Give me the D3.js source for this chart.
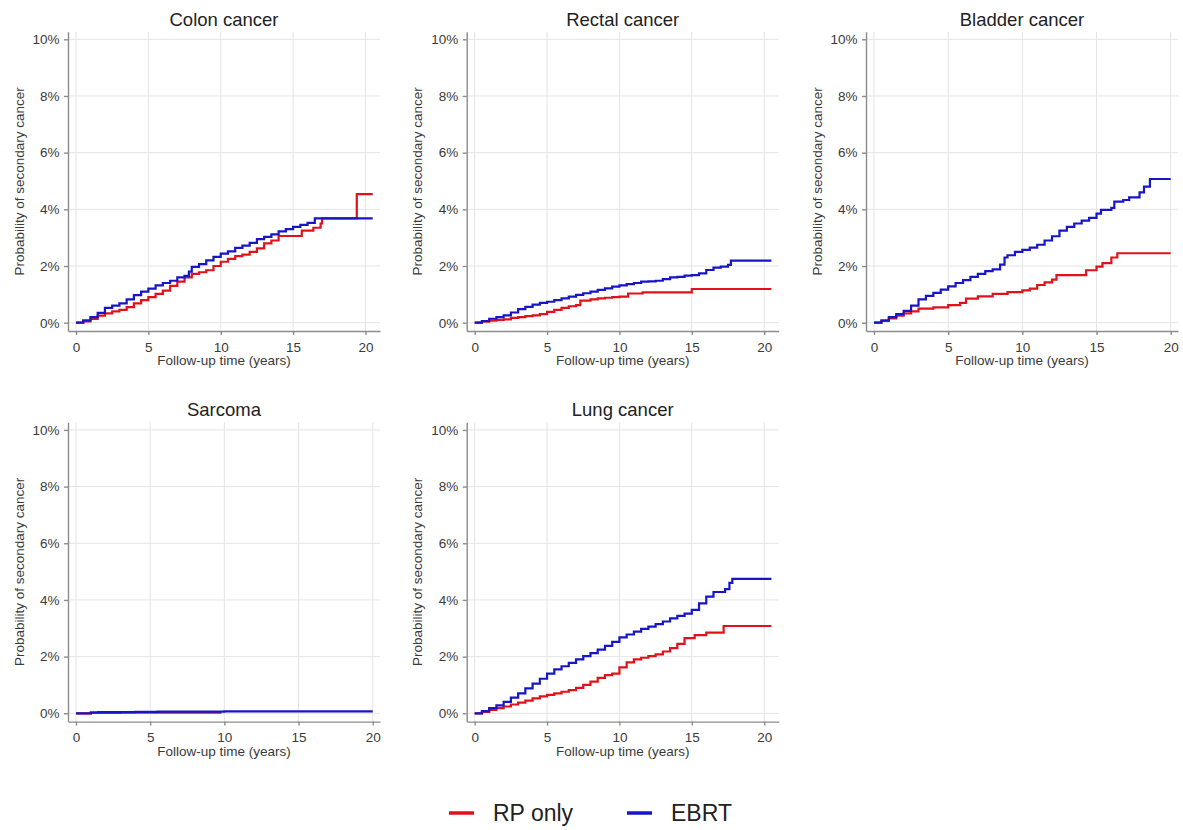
<!DOCTYPE html>
<html>
  <head>
    <title>Secondary cancer after prostate cancer treatment</title>
    <script src="https://d3js.org/d3.v7.min.js"></script>
    <style>
      body { margin: 0; background: #fff; }
      svg { font-family: "Liberation Sans", Arial, sans-serif; }
      .grid line { stroke: #e4e4e4; stroke-width: 1; }
      .axis path, .axis line { stroke: #8c8c8c; stroke-width: 1.4; }
      .axis text { fill: #3a3a3a; font-size: 13.5px; }
    </style>
  </head>
  <body>
    <div id="chart"></div>
    <script>
      // Panel titles, series and ticks
      var categories = ["Colon cancer", "Rectal cancer", "Bladder cancer", "Sarcoma", "Lung cancer"];
      var seriesNames = ["RP only", "EBRT"];
      var xMax = [20.5, 20.5, 20, 20, 20.5];
      var yTicks = [0, 2, 4, 6, 8, 10];
      var xTicks = [0, 5, 10, 15, 20];

      // Cumulative probability (%): [years, percent]
      var colonRP = [[0,0],[0.5,0.05],[1,0.13],[1.5,0.25],[2,0.33],[2.5,0.4],[3,0.45],[3.5,0.55],[4,0.68],[4.5,0.8],[5,0.9],[5.5,1.02],[6,1.13],[6.5,1.3],[7,1.45],[7.5,1.6],[8,1.72],[8.5,1.78],[9,1.85],[9.5,2.0],[10,2.15],[10.5,2.25],[11,2.35],[11.5,2.4],[12,2.5],[12.5,2.62],[13,2.8],[13.5,2.9],[14,3.06],[15.6,3.25],[16.4,3.35],[16.9,3.5],[17,3.68],[19.4,4.54],[20.5,4.54]];
      var colonEBRT = [[0,0],[0.5,0.08],[1,0.2],[1.5,0.35],[2,0.52],[2.5,0.6],[3,0.68],[3.5,0.82],[4,0.97],[4.5,1.1],[5,1.2],[5.5,1.32],[6,1.4],[6.5,1.48],[7,1.6],[7.5,1.65],[7.8,1.8],[8,1.97],[8.5,2.07],[9,2.2],[9.5,2.32],[10,2.44],[10.5,2.52],[11,2.64],[11.5,2.72],[12,2.82],[12.5,2.95],[13,3.03],[13.5,3.12],[14,3.22],[14.5,3.3],[15,3.38],[15.5,3.45],[16,3.52],[16.5,3.68],[20.5,3.68]];
      var rectalRP = [[0,0],[0.5,0.04],[1,0.07],[1.5,0.1],[2,0.12],[2.5,0.17],[3,0.2],[3.5,0.23],[4,0.26],[4.5,0.3],[5,0.38],[5.5,0.45],[6,0.52],[6.5,0.58],[7,0.62],[7.3,0.78],[8,0.82],[8.5,0.86],[9,0.88],[9.5,0.9],[10,0.92],[10.6,1.03],[11.6,1.07],[15,1.19],[20.5,1.19]];
      var rectalEBRT = [[0,0],[0.5,0.06],[1,0.14],[1.5,0.2],[2,0.26],[2.5,0.36],[3,0.48],[3.5,0.56],[4,0.64],[4.5,0.7],[5,0.74],[5.5,0.8],[6,0.86],[6.5,0.92],[7,0.98],[7.5,1.04],[8,1.1],[8.5,1.16],[9,1.21],[9.5,1.27],[10,1.32],[10.5,1.36],[11,1.4],[11.5,1.45],[12,1.46],[12.5,1.48],[13,1.54],[13.5,1.6],[14,1.62],[14.5,1.66],[15,1.68],[15.5,1.74],[16,1.86],[16.5,1.94],[17,1.98],[17.5,2.04],[17.7,2.19],[20.5,2.19]];
      var bladderRP = [[0,0],[0.5,0.06],[1,0.15],[1.5,0.25],[2,0.33],[2.5,0.4],[3,0.5],[4,0.54],[5,0.62],[5.8,0.7],[6.2,0.85],[7,0.93],[8,1.02],[9,1.08],[10,1.14],[10.5,1.2],[11,1.33],[11.5,1.42],[12,1.52],[12.3,1.68],[14.3,1.85],[15,1.98],[15.4,2.1],[16,2.3],[16.4,2.45],[20,2.45]];
      var bladderEBRT = [[0,0],[0.5,0.08],[1,0.2],[1.5,0.3],[2,0.42],[2.5,0.6],[3,0.82],[3.5,0.95],[4,1.05],[4.5,1.17],[5,1.28],[5.5,1.4],[6,1.5],[6.5,1.62],[7,1.72],[7.5,1.82],[8,1.88],[8.5,2.05],[8.8,2.3],[9,2.38],[9.5,2.5],[10,2.57],[10.5,2.65],[11,2.75],[11.5,2.9],[12,3.05],[12.5,3.25],[13,3.38],[13.5,3.5],[14,3.6],[14.5,3.7],[15,3.85],[15.3,3.98],[16,4.05],[16.2,4.27],[16.8,4.33],[17.2,4.42],[17.9,4.6],[18.2,4.8],[18.6,5.07],[20,5.07]];
      var sarcomaRP = [[0,0],[1,0.01],[3,0.02],[9.8,0.02]];
      var sarcomaEBRT = [[0,0],[1,0.03],[1.5,0.04],[4,0.05],[5.5,0.06],[10,0.07],[20,0.07]];
      var lungRP = [[0,0],[0.5,0.05],[1,0.12],[1.5,0.18],[2,0.24],[2.5,0.31],[3,0.38],[3.5,0.45],[4,0.53],[4.5,0.6],[5,0.65],[5.5,0.7],[6,0.76],[6.5,0.82],[7,0.9],[7.5,1.0],[8,1.12],[8.5,1.25],[9,1.35],[9.5,1.4],[10,1.62],[10.5,1.8],[11,1.9],[11.5,1.96],[12,2.02],[12.5,2.08],[13,2.18],[13.5,2.3],[14,2.45],[14.5,2.65],[15.2,2.76],[16,2.85],[17.2,3.08],[20.5,3.08]];
      var lungEBRT = [[0,0],[0.5,0.08],[1,0.18],[1.5,0.28],[2,0.4],[2.5,0.55],[3,0.7],[3.5,0.88],[4,1.05],[4.5,1.22],[5,1.4],[5.5,1.55],[6,1.66],[6.5,1.78],[7,1.9],[7.5,2.02],[8,2.12],[8.5,2.25],[9,2.38],[9.5,2.52],[10,2.68],[10.5,2.78],[11,2.88],[11.5,2.98],[12,3.06],[12.5,3.15],[13,3.24],[13.5,3.35],[14,3.44],[14.5,3.52],[15,3.65],[15.5,3.88],[16,4.12],[16.5,4.28],[17.3,4.38],[17.6,4.6],[17.8,4.74],[20.5,4.74]];

      var rpSeries = [colonRP, rectalRP, bladderRP, sarcomaRP, lungRP];
      var ebrtSeries = [colonEBRT, rectalEBRT, bladderEBRT, sarcomaEBRT, lungEBRT];
      var colors = ["#e2101b", "#1616c6"];

      var width = 1183, height = 830;
      // pixel of x = 0 and y = 0% for each panel
      var origins = [[76, 322.7], [474.7, 322.7], [874, 322.7], [76, 713.3], [474.7, 713.3]];
      var dataWidth = 296.7, pxPerPct = 28.34;

      var svg = d3.select("#chart").append("svg")
        .attr("width", width)
        .attr("height", height);

      categories.forEach(function (name, i) {
        var ox = origins[i][0], oy = origins[i][1];
        var k = dataWidth / xMax[i];
        var x = d3.scaleLinear().domain([-8 / k, 304 / k]).range([ox - 8, ox + 304]);
        var y = d3.scaleLinear().domain([-8.3 / pxPerPct, 10 + 7.6 / pxPerPct])
          .range([oy + 8.3, oy - 283.4 - 7.6]);
        var g = svg.append("g");
        var left = x.range()[0], right = x.range()[1];
        var top = y.range()[1], bottom = y.range()[0];

        // grid lines
        var grid = g.append("g").attr("class", "grid");
        grid.selectAll(".h").data(yTicks).enter().append("line")
          .attr("x1", left).attr("x2", right)
          .attr("y1", function (d) { return y(d); }).attr("y2", function (d) { return y(d); });
        grid.selectAll(".v").data(xTicks).enter().append("line")
          .attr("y1", top).attr("y2", bottom)
          .attr("x1", function (d) { return x(d); }).attr("x2", function (d) { return x(d); });

        // axes
        var ya = g.append("g").attr("class", "axis")
          .attr("transform", "translate(" + left + ",0)")
          .call(d3.axisLeft(y).tickValues(yTicks).tickSize(4).tickPadding(4.5).tickSizeOuter(0)
            .tickFormat(function (d) { return d + "%"; }));
        var xa = g.append("g").attr("class", "axis")
          .attr("transform", "translate(0," + bottom + ")")
          .call(d3.axisBottom(x).tickValues(xTicks).tickSize(4).tickPadding(7).tickSizeOuter(0));

        // curves
        var line = d3.line()
          .x(function (d) { return x(d[0]); })
          .y(function (d) { return y(d[1]); })
          .curve(d3.curveStepAfter);
        [rpSeries[i], ebrtSeries[i]].forEach(function (s, j) {
          g.append("path")
            .datum(s)
            .attr("d", line)
            .attr("fill", "none")
            .attr("stroke", colors[j])
            .attr("stroke-width", 2.2);
        });

        // titles
        var cx = (left + right) / 2;
        g.append("text")
          .attr("x", cx).attr("y", oy - 297)
          .attr("text-anchor", "middle")
          .attr("font-size", "18.5px")
          .attr("fill", "#222")
          .text(name);
        g.append("text")
          .attr("x", cx).attr("y", bottom + 34)
          .attr("text-anchor", "middle")
          .attr("font-size", "13.5px")
          .attr("fill", "#3a3a3a")
          .text("Follow-up time (years)");
        g.append("text")
          .attr("transform", "translate(" + (left - 44.5) + "," + ((top + bottom) / 2) + ") rotate(-90)")
          .attr("text-anchor", "middle")
          .attr("font-size", "13.5px")
          .attr("fill", "#3a3a3a")
          .text("Probability of secondary cancer");
      });

      // legend
      var legendX = [449, 627];
      var legend = svg.append("g");
      seriesNames.forEach(function (s, j) {
        legend.append("line")
          .attr("x1", legendX[j]).attr("x2", legendX[j] + 25)
          .attr("y1", 813).attr("y2", 813)
          .attr("stroke", colors[j]).attr("stroke-width", 3.5);
        legend.append("text")
          .attr("x", legendX[j] + 44).attr("y", 821)
          .attr("font-size", "23px")
          .attr("fill", "#222")
          .text(s);
      });
    </script>
  </body>
</html>
